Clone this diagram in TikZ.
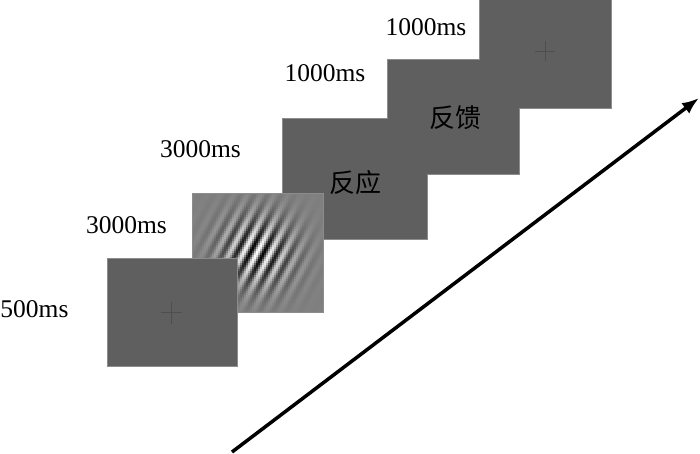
\documentclass[tikz,border=0pt]{standalone}
\usepackage{fontspec}
\setmainfont{Liberation Serif}
\newfontfamily\cjk{Noto Sans CJK SC}
\usetikzlibrary{arrows.meta}
\definecolor{scr}{RGB}{95,95,95}
\definecolor{scredge}{RGB}{140,140,140}
\definecolor{gabbg}{RGB}{128,128,128}
\definecolor{fixc}{RGB}{78,78,78}
\pgfdeclarelayer{bg}
\pgfsetlayers{bg,main}
\begin{document}
\begin{tikzpicture}[x=1pt,y=-1pt,
  screen/.style={fill=scr, inner sep=0pt, outer sep=0pt},
  screenedge/.style={draw=scredge, line width=1.4pt},
  ownedge/.style={draw=scredge, line width=0.7pt},
  lbl/.style={font=\fontsize{25.5}{30}\selectfont, inner sep=0pt},
  cn/.style={font=\cjk\fontsize{26}{30}\selectfont, inner sep=0pt},
  fix/.style={draw=fixc, line width=0.9pt},
  timearrow/.style={line width=3.5pt, -{Latex[length=17pt,width=13pt]}}]
\useasboundingbox (0,0) rectangle (700,453);

% back screens (merged outline)
\node[screen, minimum width=131pt, minimum height=108pt] (s5) at (545.5,54) {};
\node[screen, minimum width=131pt, minimum height=114pt] (s4) at (453.5,117) {};
\node[screen, minimum width=144pt, minimum height=120pt] (s3) at (355,179) {};
\begin{pgfonlayer}{bg}
  \path[screenedge] (s5.north west) rectangle (s5.south east);
  \path[screenedge] (s4.north west) rectangle (s4.south east);
  \path[screenedge] (s3.north west) rectangle (s3.south east);
\end{pgfonlayer}

% fixation cross on last screen
\coordinate (c5) at (545,51);
\draw[fix] ([xshift=-10pt]c5) -- ([xshift=10pt]c5);
\draw[fix] ([yshift=-10pt]c5) -- ([yshift=10pt]c5);

\node[cn] (fb) at (455,118) {反馈};
\node[cn] (rs) at (355,183) {反应};

% Gabor screen
\node[fill=gabbg, inner sep=0pt, outer sep=0pt, minimum width=131pt, minimum height=119pt] (gab) at (257.5,252.5) {};
\begin{scope}
  \clip (gab.north west) rectangle (gab.south east);
  \foreach \x in {192,194,...,322}{
    \foreach \y in {193,195,...,311}{
      \pgfmathsetmacro\ddx{\x+1-257.5}
      \pgfmathsetmacro\ddy{\y+1-252}
      \pgfmathsetmacro\env{exp(-(\ddx*\ddx/1250+\ddy*\ddy/1250))}
      \pgfmathsetmacro\ph{30*(0.883*\ddx+0.469*\ddy)}
      \pgfmathsetmacro\g{max(0,min(1,0.5+0.5*\env*cos(\ph)))}
      \definecolor{gc}{gray}{\g}
      \fill[gc] (\x,\y) rectangle ++(2.1,2.1);
    }
  }
\end{scope}
\path[ownedge] (gab.north west) rectangle (gab.south east);

% first screen
\node[screen, ownedge, minimum width=130pt, minimum height=108pt] (s1) at (172,312) {};
\coordinate (c1) at (171,312.5);
\draw[fix] ([xshift=-10.5pt]c1) -- ([xshift=10.5pt]c1);
\draw[fix] ([yshift=-11pt]c1) -- ([yshift=11pt]c1);

% durations
\node[lbl] (t1) at (34.5,309.5) {500ms};
\node[lbl] (t2) at (126.5,225) {3000ms};
\node[lbl] (t3) at (200.5,149) {3000ms};
\node[lbl] (t4) at (325,73) {1000ms};
\node[lbl] (t5) at (426,27) {1000ms};

% time arrow
\coordinate (tstart) at (232,452);
\coordinate (tend) at (699,98);
\draw[timearrow] (tstart) -- (tend);
\end{tikzpicture}
\end{document}
